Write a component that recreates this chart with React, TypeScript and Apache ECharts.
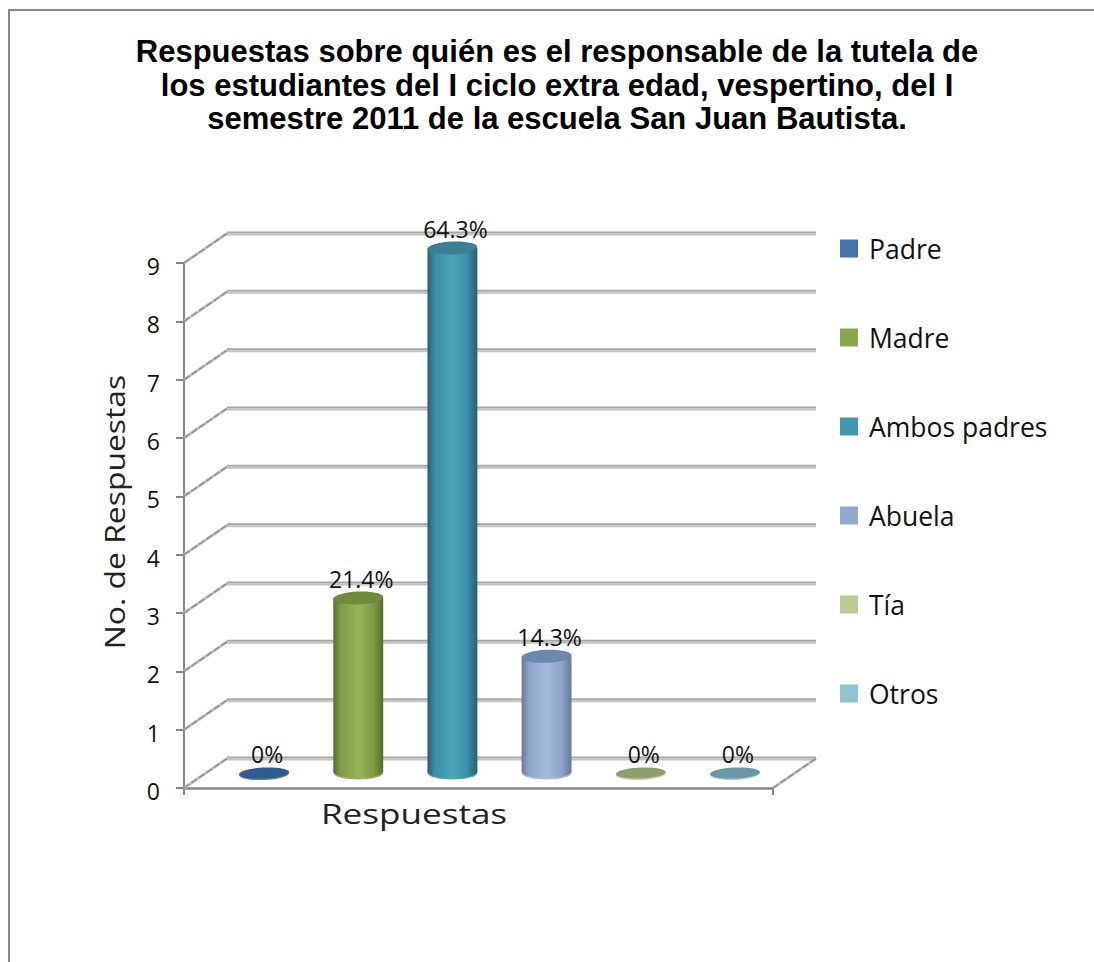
import React, { useEffect, useRef } from "react";
import * as echarts from "echarts";

const titleLines = [
  "Respuestas sobre quién es el responsable de la tutela de",
  "los estudiantes del I ciclo extra edad, vespertino, del I",
  "semestre 2011 de la escuela San Juan Bautista.",
];
const categories = ["Padre", "Madre", "Ambos padres", "Abuela", "Tía", "Otros"];
const responses = [0, 3, 9, 2, 0, 0];
const percentLabels = ["0%", "21.4%", "64.3%", "14.3%", "0%", "0%"];
const yTicks = [0, 1, 2, 3, 4, 5, 6, 7, 8, 9];
const legendColors = ["#4771a8", "#8aa64e", "#4198af", "#93a9cf", "#b9cd96", "#92c3d4"];
const topColors = ["#2f5c8d", "#6f8a3f", "#3d7f95", "#6f87ac", "#8d9e72", "#6a96a8"];
const edgeColors = ["#2c5480", "#566e2e", "#285f72", "#68799a", "#8a9a6c", "#5f8a9c"];
const midColors = ["#42699c", "#7f9a48", "#3c8ea6", "#8ea3c8", "#b0c28e", "#86b4c4"];
const lightColors = ["#4f7cb6", "#98b458", "#4aa4bc", "#a4badf", "#c4d6a4", "#9ccbdb"];

const FONT = '"Open Sans", sans-serif';
const DX = 43;
const DY = -29.5;

export default function App() {
  const ref = useRef<HTMLDivElement>(null);
  useEffect(() => {
    const chart = echarts.init(ref.current!, undefined, { renderer: "svg" });

    const diagonal = (x1: number, y1: number, x2: number, y2: number) => [
      { type: "line", shape: { x1, y1, x2, y2 }, style: { stroke: "#c6c6c6", lineWidth: 3 } },
      { type: "line", shape: { x1, y1, x2, y2 }, style: { stroke: "#8e8e8e", lineWidth: 1.4, lineDash: [7, 2] } },
    ];

    const wallSeries = {
      type: "custom",
      name: "wall",
      xAxisIndex: 0,
      yAxisIndex: 0,
      z: 1,
      silent: true,
      clip: false,
      data: yTicks.map((v) => [0, v]),
      renderItem: (params: any, api: any) => {
        const cs = params.coordSys;
        const y = api.coord([0, api.value(1)])[1];
        const x0 = cs.x;
        const bx = x0 + DX;
        const ex = x0 + cs.width + DX;
        const by = y + DY;
        const children: any[] = [
          ...diagonal(x0, y, bx, by),
          { type: "line", shape: { x1: bx, y1: by - 1, x2: ex, y2: by - 1 }, style: { stroke: "#a6a6a6", lineWidth: 2 } },
          { type: "line", shape: { x1: bx, y1: by + 1, x2: ex, y2: by + 1 }, style: { stroke: "#c2c2c2", lineWidth: 2 } },
        ];
        if (api.value(1) === 0) {
          children.push(...diagonal(x0 + cs.width, y, ex, by));
        }
        return { type: "group", children };
      },
    };

    const barSeries = categories.map((name, i) => ({
      type: "custom",
      name,
      xAxisIndex: 1,
      yAxisIndex: 1,
      z: 3,
      clip: false,
      itemStyle: { color: legendColors[i] },
      data: [[name, responses[i]]],
      renderItem: (_p: any, api: any) => {
        const [cx, yTop] = api.coord([api.value(0), api.value(1)]);
        const [, yBase] = api.coord([api.value(0), 0]);
        const w = api.size([1, 0])[0] * 0.53;
        const rx = w / 2;
        const ry = 6.5;
        const grad = new echarts.graphic.LinearGradient(0, 0, 1, 0, [
          { offset: 0, color: edgeColors[i] },
          { offset: 0.14, color: midColors[i] },
          { offset: 0.5, color: lightColors[i] },
          { offset: 0.8, color: midColors[i] },
          { offset: 1, color: edgeColors[i] },
        ]);
        const tilt = 0.045;
        const children: any[] = [];
        if (yBase - yTop > 1) {
          children.push(
            { type: "ellipse", shape: { cx, cy: yBase, rx, ry }, style: { fill: lightColors[i] } },
            { type: "ellipse", shape: { cx, cy: yBase - 1.5, rx, ry }, style: { fill: grad } },
            { type: "rect", shape: { x: cx - rx, y: yTop, width: w, height: yBase - yTop - 1.5 }, style: { fill: grad } },
          );
        } else {
          children.push({
            type: "ellipse", originX: cx, originY: yTop, rotation: tilt,
            shape: { cx, cy: yTop + 1, rx, ry: 6 }, style: { fill: lightColors[i] },
          });
        }
        children.push({
          type: "ellipse", originX: cx, originY: yTop, rotation: tilt,
          shape: { cx, cy: yTop, rx, ry: yBase - yTop > 1 ? ry : 5.5 }, style: { fill: topColors[i] },
        });
        children.push({
          type: "text",
          x: cx + 3,
          y: yTop - 19,
          style: { text: percentLabels[i], font: `23px ${FONT}`, fill: "#111", align: "center", verticalAlign: "middle" },
        });
        return { type: "group", children };
      },
    }));

    chart.setOption({
      animation: false,
      backgroundColor: "#fff",
      title: {
        text: titleLines.join("\n"),
        left: 552,
        top: 30,
        textAlign: "center",
        textStyle: { fontFamily: '"Liberation Sans", Arial, sans-serif', fontWeight: "bold", fontSize: 31, lineHeight: 33.5, color: "#000" },
      },
      legend: {
        data: categories,
        orient: "vertical",
        left: 835,
        top: 230,
        icon: "rect",
        itemWidth: 18,
        itemHeight: 18,
        itemGap: 62,
        textStyle: { fontFamily: FONT, fontSize: 26.5, color: "#111", padding: [0, 0, 0, 6] },
      },
      grid: [
        { left: 184, top: 263, width: 589, height: 525 },
        { left: 217, top: 248, width: 565, height: 525 },
      ],
      xAxis: [
        {
          type: "category",
          gridIndex: 0,
          data: ["Respuestas"],
          axisLine: { lineStyle: { color: "#868686", width: 2.5 } },
          axisTick: { show: true, length: 7, alignWithLabel: false, lineStyle: { color: "#868686", width: 2 } },
          axisLabel: { show: false },
        },
        { type: "category", gridIndex: 1, data: categories, show: false },
      ],
      yAxis: [
        {
          type: "value",
          gridIndex: 0,
          min: 0,
          max: 9,
          interval: 1,
          axisLine: { show: true, lineStyle: { color: "#868686", width: 2 } },
          axisTick: { show: true, length: 8, lineStyle: { color: "#868686", width: 2 } },
          splitLine: { show: false },
          axisLabel: {
            margin: 24,
            formatter: "{n|{value}}",
            rich: { n: { fontFamily: FONT, fontSize: 23, color: "#111", padding: [6, 0, 0, 0] } },
          },
        },
        { type: "value", gridIndex: 1, min: 0, max: 9, interval: 1, show: false },
      ],
      graphic: [
        {
          type: "polyline",
          silent: true,
          shape: { points: [[9, 962], [9, 10], [1094, 10]] },
          style: { stroke: "#898989", lineWidth: 2, fill: "none" },
        },
        {
          type: "text",
          x: 414,
          y: 814,
          scaleX: 1.3,
          style: { text: "Respuestas", font: `27px ${FONT}`, fill: "#222", align: "center", verticalAlign: "middle" },
        },
        {
          type: "text",
          x: 114,
          y: 512,
          rotation: Math.PI / 2,
          scaleX: 1.18,
          style: { text: "No. de Respuestas", font: `27px ${FONT}`, fill: "#222", align: "center", verticalAlign: "middle" },
        },
      ],
      series: [wallSeries, ...barSeries],
    });
    return () => chart.dispose();
  }, []);
  return <div ref={ref} style={{ position: "absolute", left: 0, top: 0, width: 1094, height: 962 }} />;
}
